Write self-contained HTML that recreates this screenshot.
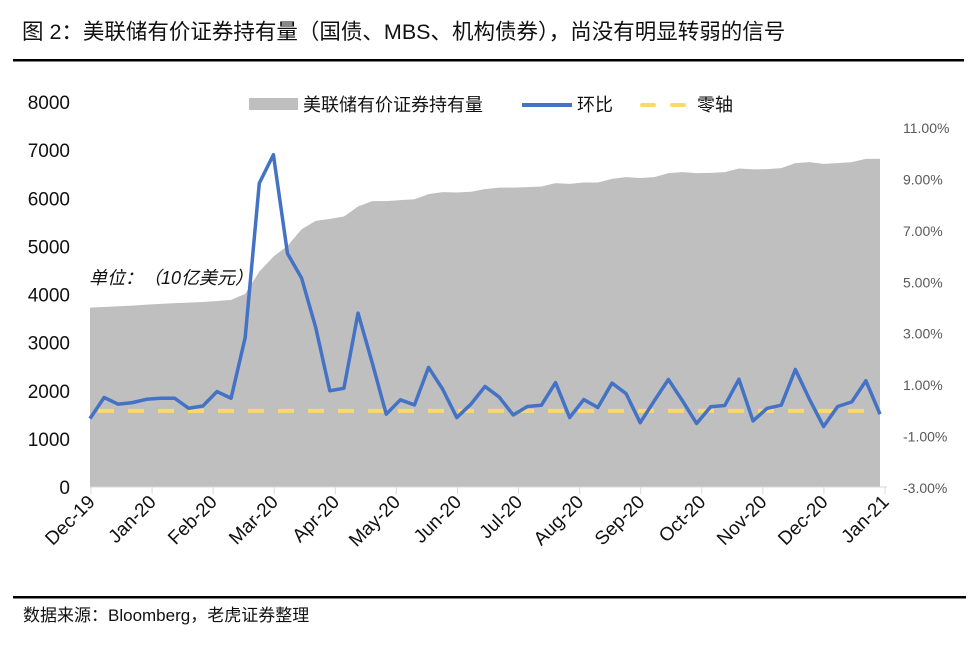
<!DOCTYPE html>
<html><head><meta charset="utf-8">
<style>
body{margin:0;background:#fff;width:975px;height:641px;overflow:hidden;font-family:"Liberation Sans","Noto Sans CJK SC",sans-serif;}
svg text{font-family:"Liberation Sans","Noto Sans CJK SC",sans-serif;}
</style></head>
<body>
<svg id="chart" width="975" height="641">
<text x="22" y="39" font-size="21.5" fill="#111">图 2：美联储有价证券持有量（国债、MBS、机构债券），尚没有明显转弱的信号</text>
<rect x="13" y="59" width="951" height="2.5" fill="#000"/>
<rect x="13" y="596" width="953" height="2.5" fill="#000"/>
<text x="23" y="621" font-size="17" fill="#111">数据来源：Bloomberg，老虎证券整理</text>
<g id="plot"></g>
<g>
<rect x="249" y="98" width="49" height="12" fill="#bfbfbf"/>
<text x="303" y="111" font-size="18" fill="#111">美联储有价证券持有量</text>
<line x1="522" y1="105" x2="572" y2="105" stroke="#4472c4" stroke-width="4"/>
<text x="577" y="111" font-size="18" fill="#111">环比</text>
<line x1="642" y1="105" x2="692" y2="105" stroke="#ffd966" stroke-width="4" stroke-dasharray="12,18" stroke-linecap="round"/>
<text x="697" y="111" font-size="18" fill="#111">零轴</text>
</g>
<text x="89" y="284" font-size="18" font-style="italic" fill="#111">单位：（10亿美元）</text>
</svg>
<script>
const holdings=[3727,3740,3755,3770,3790,3805,3820,3830,3845,3865,3888,4012,4476,4788,5010,5357,5530,5572,5620,5828,5940,5940,5960,5980,6085,6127,6120,6135,6190,6222,6222,6230,6243,6313,6300,6326,6326,6403,6438,6420,6438,6521,6542,6521,6528,6542,6618,6600,6604,6625,6729,6750,6715,6729,6750,6819,6819];
const mom=[-0.3,0.52,0.26,0.32,0.45,0.49,0.49,0.1,0.19,0.75,0.49,2.85,8.85,9.96,6.12,5.16,3.24,0.78,0.88,3.8,1.88,-0.13,0.43,0.23,1.69,0.84,-0.26,0.26,0.95,0.54,-0.16,0.17,0.22,1.1,-0.26,0.44,0.13,1.08,0.67,-0.46,0.39,1.22,0.39,-0.49,0.16,0.21,1.23,-0.39,0.1,0.22,1.61,0.45,-0.61,0.17,0.35,1.17,-0.13];
const leftTicks=[0,1000,2000,3000,4000,5000,6000,7000,8000];
const rightTicks=[-3,-1,1,3,5,7,9,11];
const months=["Dec-19","Jan-20","Feb-20","Mar-20","Apr-20","May-20","Jun-20","Jul-20","Aug-20","Sep-20","Oct-20","Nov-20","Dec-20","Jan-21"];
const NS="http://www.w3.org/2000/svg";
const g=document.getElementById('plot');
const yL=v=>487-v*(385/8000);
const yR=v=>488-(v+3)*(360/14);
const xP=i=>90+i*(790/(mom.length-1));
const xM=i=>91+i*(794/(months.length-1));
function mk(t,a){const e=document.createElementNS(NS,t);for(const k in a)e.setAttribute(k,a[k]);g.appendChild(e);return e;}
let d=`M${xP(0)},${yL(0)}`;
holdings.forEach((v,i)=>{d+=` L${xP(i)},${yL(v)}`;});
d+=` L${xP(holdings.length-1)},${yL(0)} Z`;
const area=mk('path',{d:d,fill:'#bfbfbf'});


const ax=mk('line',{x1:90,y1:487,x2:887,y2:487,stroke:'#d9d9d9','stroke-width':1});


months.forEach((m,i)=>{
  const x=xM(i);
  const t=mk('line',{x1:x,y1:487,x2:x,y2:494,stroke:'#d9d9d9','stroke-width':1});
  
  
  const lb=mk('text',{x:x+5,y:503,'font-size':19,fill:'#111','text-anchor':'end',transform:`rotate(-45 ${x+5} 503)`});
  lb.textContent=m;
  
  
});
leftTicks.forEach(v=>{
  const t=mk('text',{x:70,y:yL(v)+7,'font-size':19,fill:'#111','text-anchor':'end'});
  t.textContent=v;
  
  
});
rightTicks.forEach(v=>{
  const t=mk('text',{x:903,y:yR(v)+5,'font-size':14,fill:'#595959'});
  t.textContent=v.toFixed(2)+'%';
  
  
});
const z=mk('line',{x1:xP(0)+8,y1:yR(0),x2:xP(mom.length-1),y2:yR(0),stroke:'#ffd966','stroke-width':4,'stroke-dasharray':'16,14'});


const pts=mom.map((v,i)=>`${xP(i)},${yR(v)}`).join(' ');
const pl=mk('polyline',{points:pts,fill:'none',stroke:'#4472c4','stroke-width':3.5,'stroke-linejoin':'round'});


</script>
</body></html>
